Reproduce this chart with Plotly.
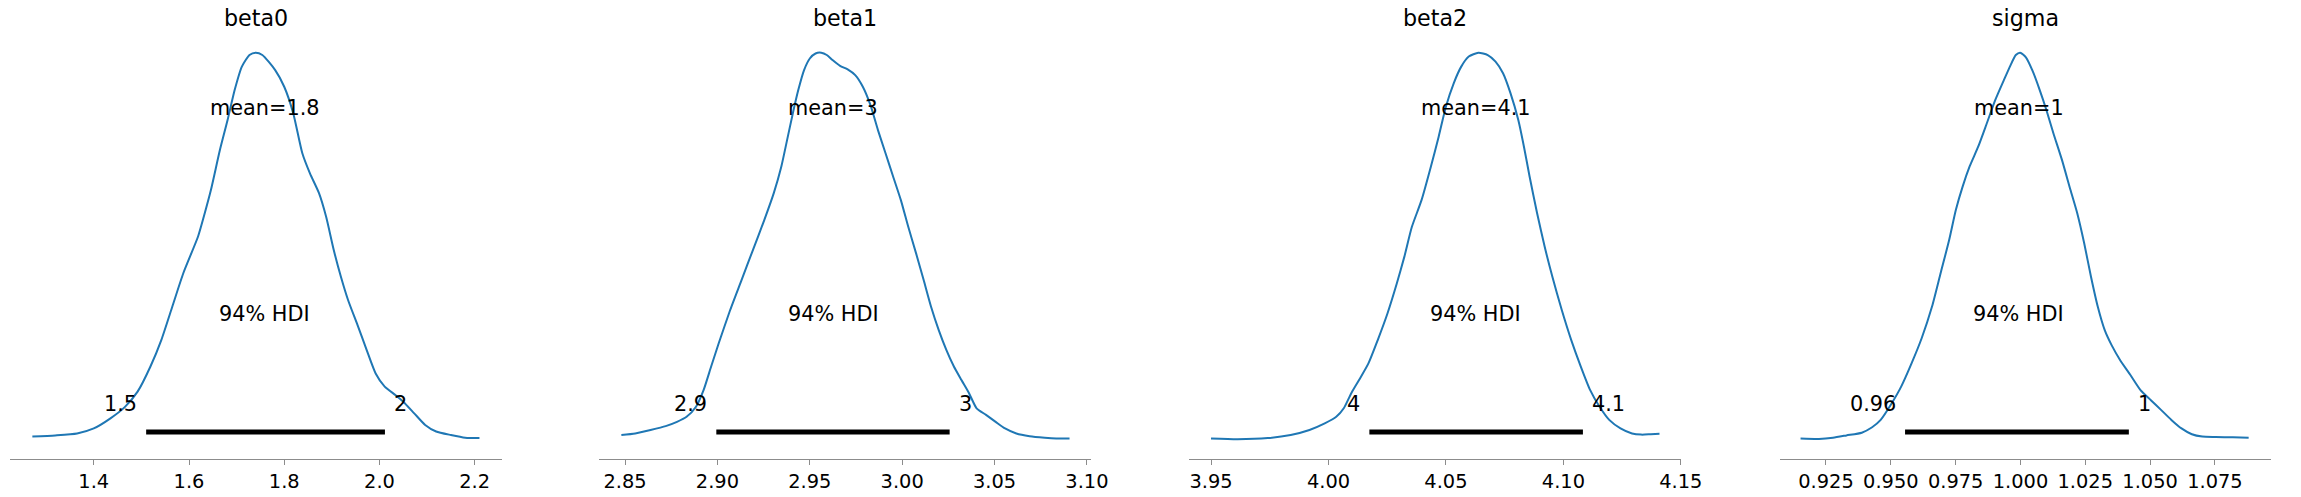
import plotly.graph_objects as go

# ---------------- data ----------------
params = ["beta0", "beta1", "beta2", "sigma"]

beta0_x = [1.271, 1.319, 1.365, 1.400, 1.435, 1.465, 1.492, 1.519, 1.542, 1.565, 1.588, 1.619, 1.631, 1.646,
           1.665, 1.681, 1.696, 1.711, 1.727, 1.740, 1.754, 1.781, 1.800, 1.819, 1.838, 1.854, 1.873, 1.888,
           1.904, 1.919, 1.934, 1.954, 1.973, 1.992, 2.011, 2.034, 2.050, 2.073, 2.096, 2.119, 2.150, 2.180, 2.210]
beta0_d = [0.008, 0.011, 0.016, 0.029, 0.055, 0.084, 0.124, 0.189, 0.258, 0.344, 0.430, 0.525, 0.576, 0.645,
           0.749, 0.826, 0.904, 0.964, 0.994, 1.000, 0.994, 0.955, 0.912, 0.843, 0.740, 0.688, 0.637, 0.576,
           0.490, 0.421, 0.361, 0.296, 0.232, 0.171, 0.137, 0.115, 0.098, 0.068, 0.038, 0.021, 0.012, 0.005, 0.004]

beta1_x = [2.848, 2.8555, 2.8638, 2.872, 2.8781, 2.8833, 2.8884, 2.8925, 2.8966, 2.9007, 2.9069, 2.9131,
           2.9192, 2.9254, 2.9305, 2.9346, 2.9377, 2.9408, 2.9438, 2.9469, 2.950, 2.9531, 2.9562, 2.9592,
           2.9623, 2.9664, 2.9705, 2.9746, 2.9787, 2.9828, 2.9869, 2.991, 2.9951, 2.9993, 3.0033, 3.0075,
           3.0116, 3.0156, 3.0198, 3.0239, 3.028, 3.0321, 3.0362, 3.0403, 3.0454, 3.0506, 3.0557, 3.0618,
           3.069, 3.0772, 3.0834, 3.0906]
beta1_d = [0.012, 0.016, 0.025, 0.035, 0.046, 0.059, 0.085, 0.128, 0.189, 0.249, 0.335, 0.413,
           0.490, 0.568, 0.637, 0.706, 0.774, 0.843, 0.904, 0.955, 0.985, 0.998, 1.000, 0.994,
           0.981, 0.966, 0.957, 0.942, 0.912, 0.865, 0.800, 0.740, 0.680, 0.619, 0.550, 0.482,
           0.413, 0.344, 0.283, 0.232, 0.189, 0.154, 0.120, 0.081, 0.064, 0.046, 0.029, 0.016,
           0.009, 0.005, 0.003, 0.003]

beta2_x = [3.950, 3.9613, 3.9742, 3.9839, 3.9919, 3.9984, 4.0033, 4.0065, 4.0097, 4.013, 4.017, 4.021,
           4.0251, 4.0291, 4.0323, 4.0355, 4.0396, 4.0436, 4.0469, 4.050, 4.0533, 4.0565, 4.0597, 4.0638,
           4.0678, 4.0711, 4.0743, 4.0775, 4.0808, 4.0832, 4.0856, 4.0888, 4.092, 4.0953, 4.0993, 4.1033,
           4.1074, 4.1114, 4.1154, 4.1195, 4.1243, 4.1292, 4.1332, 4.1372, 4.1409]
beta2_d = [0.003, 0.001, 0.004, 0.012, 0.025, 0.042, 0.059, 0.081, 0.120, 0.154, 0.197, 0.258,
           0.326, 0.404, 0.473, 0.550, 0.619, 0.706, 0.783, 0.861, 0.921, 0.964, 0.990, 1.000,
           0.994, 0.977, 0.947, 0.895, 0.826, 0.757, 0.680, 0.585, 0.499, 0.421, 0.335, 0.258,
           0.189, 0.128, 0.085, 0.051, 0.029, 0.016, 0.013, 0.014, 0.015]

sigma_x = [0.9152, 0.9223, 0.9277, 0.9329, 0.9388, 0.9428, 0.9461, 0.950, 0.954, 0.958, 0.9619, 0.9659,
           0.9692, 0.9725, 0.9751, 0.9777, 0.9804, 0.9837, 0.987, 0.9903, 0.9936, 0.9962, 0.9982, 0.9999,
           1.0021, 1.0048, 1.0074, 1.010, 1.0127, 1.016, 1.0193, 1.0219, 1.0246, 1.0272, 1.0298, 1.0325,
           1.0351, 1.0384, 1.0424, 1.0463, 1.0503, 1.0542, 1.0582, 1.0621, 1.0661, 1.0701, 1.0753, 1.0819, 1.088]
sigma_d = [0.003, 0.002, 0.005, 0.011, 0.018, 0.032, 0.051, 0.090, 0.137, 0.197, 0.262, 0.344,
           0.430, 0.516, 0.594, 0.654, 0.706, 0.757, 0.817, 0.878, 0.929, 0.968, 0.994, 1.000,
           0.988, 0.951, 0.904, 0.852, 0.792, 0.723, 0.645, 0.585, 0.507, 0.421, 0.344, 0.283,
           0.245, 0.206, 0.167, 0.128, 0.102, 0.077, 0.051, 0.029, 0.014, 0.008, 0.007, 0.006, 0.005]

means = [1.758, 2.9628, 4.0626, 0.9993]
hdi_low = [1.510, 2.8994, 4.0174, 0.9555]
hdi_high = [2.0115, 3.0257, 4.1083, 1.0418]

tick_vals = [
    [1.4, 1.6, 1.8, 2.0, 2.2],
    [2.85, 2.90, 2.95, 3.00, 3.05, 3.10],
    [3.95, 4.00, 4.05, 4.10, 4.15],
    [0.925, 0.950, 0.975, 1.000, 1.025, 1.050, 1.075],
]
tick_text = [
    ["1.4", "1.6", "1.8", "2.0", "2.2"],
    ["2.85", "2.90", "2.95", "3.00", "3.05", "3.10"],
    ["3.95", "4.00", "4.05", "4.10", "4.15"],
    ["0.925", "0.950", "0.975", "1.000", "1.025", "1.050", "1.075"],
]
x_ranges = [[1.2247, 2.2577], [2.8361, 3.1023], [3.9406, 4.1501], [0.9072, 1.0968]]
curves = [(beta0_x, beta0_d), (beta1_x, beta1_d), (beta2_x, beta2_d), (sigma_x, sigma_d)]

# ---------------- layout helpers ----------------
W, H = 2301, 497
px_domains = [(10.4, 506.8), (604.9, 1101.2), (1199.9, 1696.6), (1796.2, 2292.4)]
y_dom = [1 - 459 / H, 1 - 33.35 / H]

FONT = "DejaVu Sans"
BLUE = "#1f77b4"
TICK = 19.4
TXT = 20.8
TITLE = 22.2

def fmt2(v):
    return f"{v:.2g}"

fig = go.Figure()
annotations = []
layout_axes = {}

for i, name in enumerate(params):
    xa = "x" if i == 0 else f"x{i+1}"
    ya = "y" if i == 0 else f"y{i+1}"
    xs, ds = curves[i]
    fig.add_trace(go.Scatter(x=xs, y=ds, mode="lines", line=dict(color=BLUE, width=2, shape="spline", smoothing=0.6),
                             xaxis=xa, yaxis=ya, showlegend=False, hoverinfo="skip"))
    fig.add_trace(go.Scatter(x=[hdi_low[i], hdi_high[i]], y=[0.02, 0.02], mode="lines",
                             line=dict(color="black", width=5), xaxis=xa, yaxis=ya,
                             showlegend=False, hoverinfo="skip"))
    d0, d1 = px_domains[i]
    key_x = "xaxis" if i == 0 else f"xaxis{i+1}"
    key_y = "yaxis" if i == 0 else f"yaxis{i+1}"
    layout_axes[key_x] = dict(
        domain=[d0 / W, d1 / W], range=x_ranges[i], anchor=ya,
        showgrid=False, zeroline=False, showline=True, linecolor="#8c8c8c", linewidth=1,
        ticks="outside", ticklen=5, tickwidth=1, tickcolor="#8c8c8c",
        tickvals=tick_vals[i], ticktext=tick_text[i],
        tickfont=dict(family=FONT, size=TICK, color="black"),
    )
    layout_axes[key_y] = dict(domain=y_dom, range=[-0.05, 1.05], anchor=xa, visible=False, fixedrange=True)

    xref, yref = xa, ya
    annotations.append(dict(text=name, x=(d0 + d1) / 2 / W, y=1 - 18 / H, xref="paper", yref="paper",
                            showarrow=False, xanchor="center", yanchor="middle",
                            font=dict(family=FONT, size=TITLE, color="black")))
    annotations.append(dict(text=f"mean={fmt2(means[i])}", x=means[i], y=0.856, xref=xref, yref=yref,
                            showarrow=False, xanchor="center", yanchor="middle",
                            font=dict(family=FONT, size=TXT, color="black")))
    annotations.append(dict(text="94% HDI", x=means[i], y=0.326, xref=xref, yref=yref,
                            showarrow=False, xanchor="center", yanchor="middle",
                            font=dict(family=FONT, size=TXT, color="black")))
    annotations.append(dict(text=fmt2(hdi_low[i]), x=hdi_low[i], y=0.093, xref=xref, yref=yref,
                            showarrow=False, xanchor="right", yanchor="middle", xshift=-7,
                            font=dict(family=FONT, size=TXT, color="black")))
    annotations.append(dict(text=fmt2(hdi_high[i]), x=hdi_high[i], y=0.093, xref=xref, yref=yref,
                            showarrow=False, xanchor="left", yanchor="middle", xshift=7,
                            font=dict(family=FONT, size=TXT, color="black")))

fig.update_layout(
    width=W, height=H,
    margin=dict(l=0, r=0, t=0, b=0),
    paper_bgcolor="white", plot_bgcolor="white",
    annotations=annotations,
    **layout_axes,
)

fig.write_html(
    "out.html",
    config={"displayModeBar": False},
    post_script="document.body.style.margin='0';document.body.style.overflow='hidden';",
)
